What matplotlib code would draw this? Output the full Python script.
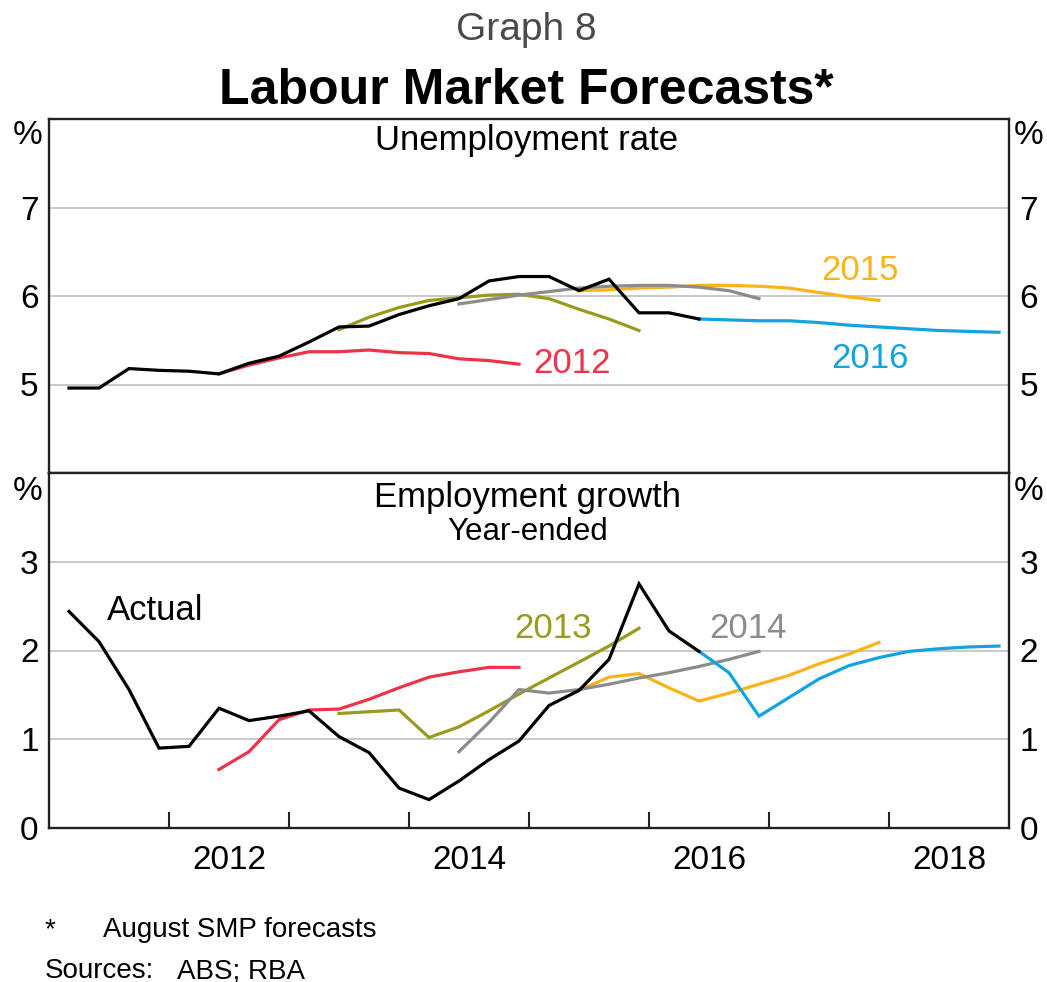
import matplotlib
matplotlib.use("Agg")
import matplotlib.pyplot as plt
import pandas as pd

plt.rcParams['font.family'] = ['Liberation Sans', 'DejaVu Sans']

# ---------------- data ----------------
actual_start = '2011Q1'
actual_end = '2016Q2'
unemp_actual = [4.96, 4.96, 5.18, 5.16, 5.15, 5.12, 5.24, 5.32, 5.48, 5.65, 5.66,
                5.79, 5.89, 5.97, 6.17, 6.22, 6.22, 6.06, 6.19, 5.81, 5.81, 5.74]
emp_actual = [2.44, 2.10, 1.56, 0.90, 0.92, 1.35, 1.21, 1.26, 1.32, 1.03, 0.85,
              0.45, 0.32, 0.53, 0.77, 0.98, 1.38, 1.55, 1.90, 2.75, 2.22, 1.99]

forecast_names = ['2012', '2013', '2014', '2015', '2016']
forecast_start = ['2012Q2', '2013Q2', '2014Q2', '2015Q2', '2016Q2']
unemp_fc_2012 = [5.12, 5.22, 5.30, 5.37, 5.37, 5.39, 5.36, 5.35, 5.29, 5.27, 5.23]
unemp_fc_2013 = [5.62, 5.76, 5.87, 5.95, 5.98, 6.01, 6.02, 5.97, 5.85, 5.74, 5.61]
unemp_fc_2014 = [5.91, 5.96, 6.01, 6.05, 6.09, 6.11, 6.12, 6.12, 6.10, 6.06, 5.97]
unemp_fc_2015 = [6.06, 6.07, 6.09, 6.10, 6.12, 6.12, 6.11, 6.09, 6.04, 5.99, 5.95]
unemp_fc_2016 = [5.74, 5.73, 5.72, 5.72, 5.70, 5.67, 5.65, 5.63, 5.61, 5.60, 5.59]
emp_fc_2012 = [0.66, 0.86, 1.22, 1.33, 1.34, 1.45, 1.58, 1.70, 1.76, 1.81, 1.81]
emp_fc_2013 = [1.29, 1.31, 1.33, 1.02, 1.14, 1.32, 1.51, 1.69, 1.87, 2.05, 2.25]
emp_fc_2014 = [0.86, 1.19, 1.56, 1.52, 1.56, 1.62, 1.69, 1.75, 1.82, 1.90, 1.99]
emp_fc_2015 = [1.55, 1.70, 1.74, 1.58, 1.43, 1.52, 1.62, 1.72, 1.85, 1.96, 2.09]
emp_fc_2016 = [1.99, 1.75, 1.26, 1.47, 1.68, 1.83, 1.92, 1.99, 2.02, 2.04, 2.05]

unemp_ticks = [5, 6, 7]
emp_ticks = [0, 1, 2, 3]
year_ticks = [2012, 2013, 2014, 2015, 2016, 2017, 2018]
year_labels = ['2012', '2014', '2016', '2018']

colors = {'2012': '#EE3348', '2013': '#9A9A1E', '2014': '#8C8C8C',
          '2015': '#FBB31B', '2016': '#12A3E0', 'actual': '#000000'}


def qpos(periods):
    # position each quarter at its middle month
    return [p.year + (p.quarter - 1) / 4 + 1 / 6 for p in periods]


def qrange(start, n):
    return qpos(pd.period_range(start=start, periods=n, freq='Q'))


x_actual = qpos(pd.period_range(actual_start, actual_end, freq='Q'))

unemp_fc = [unemp_fc_2012, unemp_fc_2013, unemp_fc_2014, unemp_fc_2015, unemp_fc_2016]
emp_fc = [emp_fc_2012, emp_fc_2013, emp_fc_2014, emp_fc_2015, emp_fc_2016]

# ---------------- figure ----------------
W, H = 1047, 982
fig = plt.figure(figsize=(W / 100, H / 100), dpi=100)


def fy(py):
    return 1 - py / H


def fx(px):
    return px / W


left, right = 49, 1009
ax1 = fig.add_axes([fx(left), fy(473), fx(right - left), (473 - 119) / H])
ax2 = fig.add_axes([fx(left), fy(828), fx(right - left), (828 - 473) / H])

lw = 2.3
order = [0, 1, 3, 2, 4]
for ax, fc, act in [(ax1, unemp_fc, unemp_actual), (ax2, emp_fc, emp_actual)]:
    for i in order:
        name = forecast_names[i]
        ax.plot(qrange(forecast_start[i], len(fc[i])), fc[i], color=colors[name],
                lw=lw, solid_joinstyle='miter', zorder=3)
    ax.plot(x_actual, act, color=colors['actual'], lw=lw, solid_joinstyle='miter', zorder=4)
    ax.set_xlim(2011, 2019)
    for s in ax.spines.values():
        s.set_linewidth(1.7)
        s.set_color('#222222')
    ax.grid(axis='y', color='#BBBBBB', lw=1.1)
    ax.set_axisbelow(True)
    ax.tick_params(axis='y', left=False, right=False, labelleft=True, labelright=True,
                   labelsize=24, pad=4)

ax1.set_ylim(4, 8)
ax1.set_yticks(unemp_ticks)
ax1.set_xticks([])
ax2.set_ylim(0, 4)
ax2.set_yticks(emp_ticks)
ax2.set_xticks(year_ticks)
ax2.set_xticklabels([])
ax2.set_xticks([int(y) + 0.5 for y in year_labels], minor=True)
ax2.set_xticklabels(year_labels, minor=True)
ax2.tick_params(axis='x', which='major', direction='in', length=11.5, width=1.5,
                color='#222222', top=False)
ax2.tick_params(axis='x', which='minor', length=0, labelsize=24, pad=12)

# ---------------- text ----------------
fig.text(0.503, fy(40), 'Graph 8', ha='center', va='baseline', fontsize=28, color='#4A4A4A')
fig.text(0.503, fy(104), 'Labour Market Forecasts*', ha='center', va='baseline',
         fontsize=36, fontweight='bold')
fig.text(fx(527), fy(150), 'Unemployment rate', ha='center', va='baseline', fontsize=25)
fig.text(fx(528), fy(507), 'Employment growth', ha='center', va='baseline', fontsize=25)
fig.text(fx(528), fy(540), 'Year-ended', ha='center', va='baseline', fontsize=22.5)

for py in (144, 500):
    fig.text(fx(42), fy(py), '%', ha='right', va='baseline', fontsize=24)
    fig.text(fx(1014), fy(py), '%', ha='left', va='baseline', fontsize=24)

label_pos = {'2012': (533, 373), '2015': (821, 280), '2016': (831, 368),
             '2013': (514, 638), '2014': (709, 638)}
for name, (px, py) in label_pos.items():
    fig.text(fx(px), fy(py), name, ha='left', va='baseline', fontsize=25, color=colors[name])
fig.text(fx(107), fy(620), 'Actual', ha='left', va='baseline', fontsize=25)

fig.text(fx(45), fy(937), '*', ha='left', va='baseline', fontsize=20)
fig.text(fx(103), fy(937), 'August SMP forecasts', ha='left', va='baseline', fontsize=20)
fig.text(fx(45), fy(978), 'Sources:', ha='left', va='baseline', fontsize=20)
fig.text(fx(177), fy(978), 'ABS; RBA', ha='left', va='baseline', fontsize=20)

fig.savefig('out.png', dpi=100)
